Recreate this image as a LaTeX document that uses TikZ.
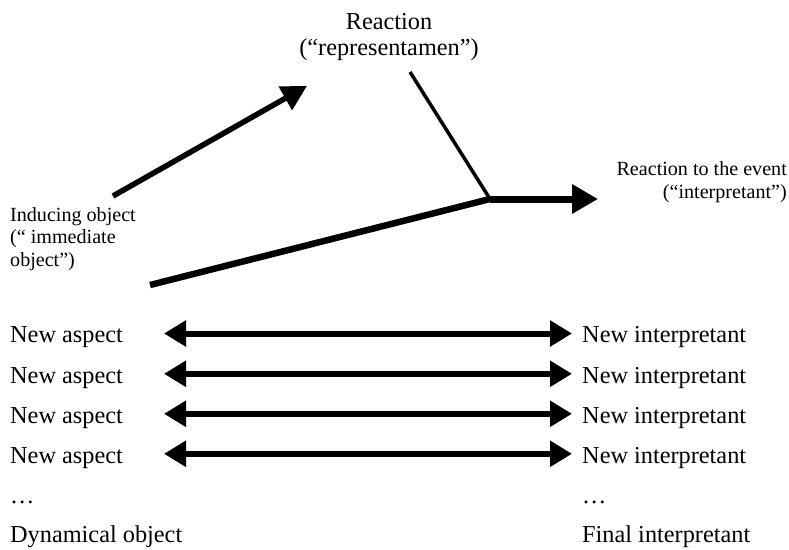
\documentclass[tikz,border=0pt]{standalone}
\usepackage{fontspec}
\setmainfont{Liberation Serif}
\usetikzlibrary{arrows.meta}
\begin{document}
\begin{tikzpicture}[x=1pt,y=-1pt,
  big/.style={font=\fontsize{24.3}{26.5}\selectfont, inner sep=0pt},
  small/.style={font=\fontsize{20.1}{22.6}\selectfont, inner sep=0pt},
  bigtip/.style={-{Triangle[length=25pt,width=26pt]}},
  dbl/.style={line width=6pt, {Triangle[length=22pt,width=25pt]}-{Triangle[length=22pt,width=25pt]}}]
\useasboundingbox (0,0) rectangle (789,549);
% labels (base anchor = baseline of last line)
\node[big, align=center, anchor=base] (rep) at (389,55.5) {Reaction\\(“representamen”)};
\node[small, align=right, anchor=base east] (interp) at (787,198) {Reaction to the event\\(“interpretant”)};
\node[small, align=left, anchor=base west] (ind) at (10,266.5) {Inducing object\\(“ immediate\\object”)};
% triad connectors
\coordinate (a1s) at (113,196);
\coordinate (a1e) at (307,86);
\coordinate (l2s) at (410,72);
\coordinate (j) at (490,199);
\coordinate (l3s) at (150,285);
\coordinate (a4e) at (598,199);
\draw[line width=5.5pt, bigtip] (a1s) -- (a1e);
\draw[line width=3.5pt] (l2s) -- (j);
\draw[line width=6.5pt] (l3s) -- (j);
\draw[line width=7pt, -{Triangle[length=26pt,width=28pt]}] (j) -- (a4e);
% rows
\foreach \i/\yb in {1/342.7,2/383,3/423,4/463}{
  \node[big, anchor=base west] (na\i) at (10,\yb) {New aspect};
  \node[big, anchor=base west] (ni\i) at (582,\yb) {New interpretant};
  \coordinate (l\i) at (164,\yb-9.2);
  \coordinate (r\i) at (572,\yb-9.2);
  \draw[dbl] (l\i) -- (r\i);
}
\node[big, anchor=base west] (dl) at (10,503) {…};
\node[big, anchor=base west] (dr) at (582,503) {…};
\node[big, anchor=base west] (dyn) at (10,542) {Dynamical object};
\node[big, anchor=base west] (fin) at (582,542) {Final interpretant};
\end{tikzpicture}
\end{document}
